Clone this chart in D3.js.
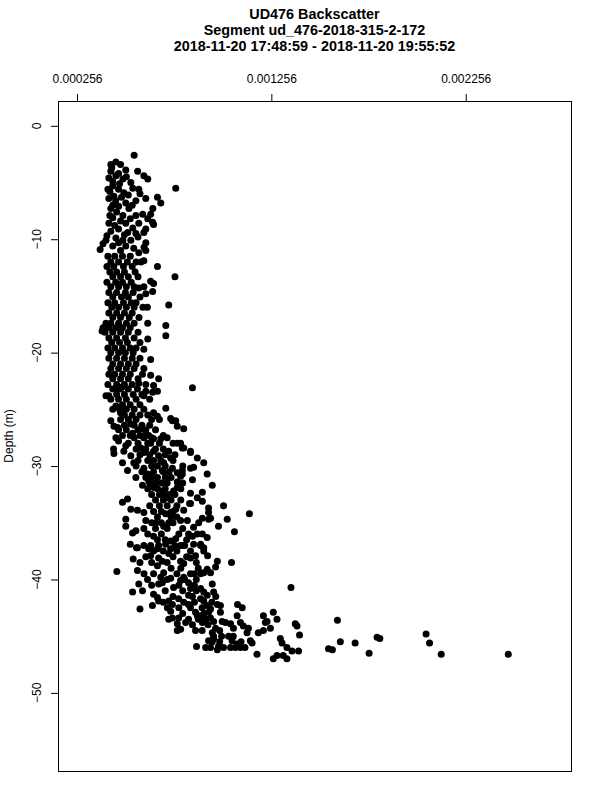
<!DOCTYPE html>
<html><head><meta charset="utf-8">
<script src="https://cdn.jsdelivr.net/npm/d3@7"></script>
<style>
body{margin:0;background:#fff}
svg{display:block}
text{font-family:"Liberation Sans",Arial,Helvetica,sans-serif;fill:#000}
</style>
</head><body>
<svg id="chart" width="600" height="800"></svg>
<script>
const titleLines = [
  "UD476 Backscatter",
  "Segment ud_476-2018-315-2-172",
  "2018-11-20 17:48:59 - 2018-11-20 19:55:52"
];
const yLabel = "Depth (m)";
const xTicks = [0.000256, 0.001256, 0.002256];
const xTickLabels = ["0.000256", "0.001256", "0.002256"];
const yTicks = [0, -10, -20, -30, -40, -50];
const yTickLabels = ["0", "\u221210", "\u221220", "\u221230", "\u221240", "\u221250"];
const xLimits = [0.000256, 0.0027];
const yLimits = [-54.7, 0];

// samples: [backscatter in units of 1e-5, depth in m]
const samples = [
  // 2.5 - 11 m
  [55,-2.6],[45.6,-3.2],[48,-3.4],[43.5,-3.7],[50.7,-3.9],[56.8,-4.0],[60,-4.4],[62,-4.7],[76.4,-5.5],[42,-4.6],
  [45.6,-4.4],[49.2,-4.7],[44,-5.3],[41.5,-5.6],[53.3,-5.0],[54.3,-5.5],[57.4,-5.6],[47,-5.6],[49.7,-5.9],[44.6,-6.2],
  [42,-6.4],[61,-6.4],[67,-6.3],[68.7,-6.8],[55.9,-6.6],[50.7,-6.8],[47,-7.1],[43,-7.3],[52.3,-7.3],[64.6,-7.3],
  [63.5,-7.8],[59.4,-7.8],[55.9,-7.9],[49.2,-7.9],[44,-8.1],[42,-8.6],[50.7,-8.6],[57.4,-8.6],[65,-8.7],[54.3,-9.0],
  [61,-9.1],[47,-9.1],[43,-9.3],[51.7,-9.4],[55.9,-9.5],[60,-9.4],[45.6,-9.9],[40.5,-10.1],[49.2,-10.1],[53.3,-10.1],
  [61,-10.3],[39,-10.4],[44,-10.6],[50.7,-10.6],[54.8,-10.8],[48,-11.0],[57.4,-11.2],[37.5,-10.9],
  [43,-4.0],[47,-4.2],[44,-4.9],[47.5,-5.1],[42.5,-5.8],[45.5,-6.6],[48.5,-6.3],[44,-7.0],[46,-7.6],[48,-8.4],
  [45,-8.8],[52,-6.1],[53,-8.2],[50,-9.6],[47,-10.3],[41,-9.7],[43,-3.4],[51,-4.5],[58,-6.0],[54,-7.0],
  [42.5,-7.9],[57,-9.8],[62,-8.2],[64.5,-8.5],[60.1,-10.7],[61,-11.0],[60,-11.9],
  // 11 - 20 m
  [41.5,-11.5],[45,-11.5],[49,-11.5],[53,-11.5],
  [43,-12.0],[47,-12.0],[51.5,-12.0],[56,-12.0],[58.5,-12.0],
  [41,-12.4],[44.5,-12.4],[49.5,-12.4],[54,-12.4],
  [42.5,-12.9],[46,-12.9],[50,-12.9],[55.5,-12.9],
  [44,-13.3],[48,-13.3],[52,-13.3],[57,-13.3],
  [41,-13.8],[45.5,-13.8],[49,-13.8],[53.5,-13.8],
  [43,-14.2],[47,-14.2],[51,-14.2],[55,-14.2],[60,-14.2],
  [42,-14.7],[46,-14.7],[50.5,-14.7],[54.5,-14.7],
  [44,-15.1],[48.5,-15.1],[52,-15.1],[58,-15.1],
  [41.5,-15.6],[45,-15.6],[49.5,-15.6],[53.5,-15.6],[56,-15.6],
  [43.5,-16.0],[47,-16.0],[51,-16.0],[55,-16.0],[59.5,-16.0],
  [42,-16.5],[46,-16.5],[50,-16.5],[54,-16.5],
  [44,-16.9],[48,-16.9],[52.5,-16.9],[57.5,-16.9],
  [40.5,-17.4],[43,-17.4],[47,-17.4],[51,-17.4],[55,-17.4],
  [39,-17.8],[42,-17.8],[45.5,-17.8],[49,-17.8],[53,-17.8],
  [40,-18.2],[44,-18.2],[48,-18.2],[52,-18.2],[57,-18.2],
  [42,-18.7],[46,-18.7],[50.5,-18.7],[55,-18.7],
  [43.5,-19.1],[47.5,-19.1],[51.5,-19.1],[58,-19.1],
  [41.5,-19.6],[45,-19.6],[49,-19.6],[53,-19.6],[56,-19.6],
  [43,-20.0],[47,-20.0],[50.5,-20.0],[54.5,-20.0],
  [67,-12.4],[76,-13.3],[63.5,-13.7],[65,-13.9],[64.5,-14.6],[57.4,-14.3],[72.8,-15.8],[61,-14.8],[71.3,-17.6],[71.3,-18.5],
  [62,-17.4],[62,-18.8],[60,-19.7],[61.8,-16.0],[39.4,-17.9],[38.5,-18.1],[63.5,-20.6],
  // 20 - 28 m
  [42,-20.5],[46,-20.5],[50,-20.5],[54,-20.5],[58,-20.5],
  [44,-21.0],[48,-21.0],[52,-21.0],[56,-21.0],
  [43,-21.4],[47,-21.4],[51,-21.4],[55,-21.4],[60,-21.4],
  [45,-21.9],[49,-21.9],[53,-21.9],
  [44,-22.3],[48,-22.3],[52,-22.3],[57,-22.3],
  [41.5,-22.8],[46,-22.8],[50,-22.8],[54,-22.8],[61,-22.8],
  [44,-23.2],[48,-23.2],[52,-23.2],
  [46,-23.7],[50,-23.7],[54.5,-23.7],[59,-23.7],
  [43,-24.1],[47,-24.1],[51,-24.1],[56,-24.1],[63,-24.1],
  [49,-24.6],[53,-24.6],[58,-24.6],
  [44,-25.0],[47.5,-25.0],[51,-25.0],[55,-25.0],[60,-25.0],
  [50,-25.5],[54,-25.5],[58,-25.5],[62,-25.5],
  [48,-25.9],[52,-25.9],[56,-25.9],[64,-25.9],[68,-25.9],
  [50,-26.4],[55,-26.4],[59,-26.4],[63,-26.4],
  [47,-26.8],[51,-26.8],[57,-26.8],[61,-26.8],[66,-26.8],
  [49,-27.3],[53,-27.3],[58,-27.3],[70,-27.3],
  [42,-21.9],[59.3,-21.9],[63.5,-22.0],[67.6,-22.3],[85,-23.1],[42,-23.8],[45.6,-23.2],[49,-23.0],[56.7,-23.2],[61,-23.4],
  [64.5,-23.5],[57.4,-22.7],[45.6,-24.7],[48,-25.3],[43,-26],[44.6,-26.5],[46.5,-26.6],[71.3,-24.9],[65,-25.3],[67,-25.6],
  [73.8,-25.8],[76.4,-26],[77.2,-26.5],[80.5,-26.7],[53.3,-26.3],[54.2,-27.1],[58.4,-26.7],[61,-27.1],[62.5,-27.3],[65,-27.6],
  [68.7,-27.6],[77.2,-28.0],[79.8,-28.4],[84,-28.7],[47,-27.8],[50.7,-28.2],[65,-22.9],[67,-23.4],[60,-23.8],[45.6,-27.5],
  [74.7,-26.0],[40.5,-23.8],
  // 28 - 37 m
  [44.6,-28.9],[49.7,-28.7],[53.3,-29.1],[54.8,-29.7],[49,-29.7],[51.6,-30.4],[58.4,-28.4],[60,-28.8],[63.5,-28.0],[65,-28.7],
  [67.6,-29.1],[68.7,-29.5],[72.8,-28.7],[73.8,-29.3],[78.9,-28.0],[80.5,-28.4],[84,-28.8],[87.5,-29.3],[90.8,-29.7],[74.7,-30.2],
  [77.2,-30.6],[78.9,-30.9],[79.8,-30.4],[84,-30.2],[85.6,-30.1],[92.6,-30.7],[95.2,-31.7],[85,-31.2],[70.2,-29.7],[69.5,-30.4],
  [67,-31.0],[60,-30.2],[61.9,-30.7],[62.5,-31.3],[55.9,-31.0],[59.3,-31.7],[65,-31.9],[68.7,-32.2],[70.2,-32.5],[72.1,-32.8],
  [75.3,-32.2],[77.2,-31.9],[84,-33.3],[90.1,-33.1],[93.3,-33.7],[93.3,-34.1],[101,-33.5],[114.3,-34.2],[51.6,-32.9],[53.3,-33.8],
  [56.7,-33.9],[60,-34.1],[61,-34.8],[66.1,-35.0],[71.2,-34.2],[73.8,-34.1],[76.4,-33.8],[80.5,-33.9],[50.7,-34.7],[50.7,-35.3],
  [70.2,-35.3],[72.8,-35.0],[78.9,-34.8],[82.4,-34.8],[85.6,-35.4],[88.2,-35.0],[90.1,-34.6],[93.3,-34.7],[98.4,-35.3],[102.9,-34.7],
  [106.6,-35.8],[55.9,-35.7],[60,-35.5],[65,-36.2],[56.7,-37.2],[62.5,-37.3],[67,-37.3],[73.8,-36.6],[76.4,-36.4],[79.8,-37.0],
  [85,-36.2],[87.5,-36.0],[90.1,-36.0],[92.6,-36.3],[89.2,-36.9],[90.8,-37.2],[54.2,-35.9],[94.3,-34.6],[87.5,-32.8],[84,-32.4],
  [90.1,-32.3],[83.5,-33.3],[79.8,-30.7],[77.2,-31.4],[44.4,-28.5],
  [55,-27.5],[60,-27.5],[64,-27.5],[72,-27.5],
  [52,-28.0],[57,-28.0],[62,-28.0],[68,-28.0],[75,-28.0],
  [56,-28.5],[61,-28.5],[66,-28.5],[70,-28.5],
  [58,-29.0],[63,-29.0],[71,-29.0],[76,-29.0],
  [57,-29.5],[62,-29.5],[65,-29.5],[75,-29.5],
  [56,-30.0],[64,-30.0],[67,-30.0],[71,-30.0],[80,-30.0],
  [59,-30.5],[65,-30.5],[70,-30.5],[73,-30.5],
  [61,-31.0],[64,-31.0],[71,-31.0],[74,-31.0],
  [63,-31.5],[66,-31.5],[69,-31.5],[72,-31.5],[80,-31.5],
  [62,-32.0],[67,-32.0],[71,-32.0],[79,-32.0],
  [64,-32.5],[68,-32.5],[73,-32.5],[76,-32.5],
  [66,-33.0],[70,-33.0],[74,-33.0],[79,-33.0],
  [63,-33.5],[68,-33.5],[72,-33.5],[77,-33.5],
  [65,-34.0],[69,-34.0],[75,-34.0],
  [67,-34.5],[74,-34.5],[77,-34.5],
  [64,-35.0],[69,-35.0],[75,-35.0],
  [49,-33.2],[53,-36.9],
  // 37 - 47.5 m
  [46.1,-39.3],[56.2,-37.2],[54.5,-38.2],[58,-38.5],[63.5,-37.0],[65,-37.5],[67.6,-37.0],[71.2,-36.9],[73.8,-37.3],[72.8,-37.7],
  [63.5,-37.9],[67.6,-38.1],[69.5,-38.4],[67,-38.8],[78.9,-37.0],[85.6,-36.9],[89.2,-37.0],[90.8,-37.5],[92.8,-37.9],[78.9,-38.4],
  [80.5,-38.6],[84,-38.1],[86.6,-37.9],[97.8,-38.4],[96.9,-38.9],[94.3,-39.4],[105.1,-38.5],[90.8,-39.4],[92.6,-39.1],[89.2,-39.5],
  [84,-39.5],[80.5,-39.8],[78.9,-40.1],[56.7,-39.2],[60.1,-39.5],[61.9,-40.0],[68.7,-39.8],[70.2,-39.4],[67.6,-40.4],[69.5,-40.3],
  [73.8,-39.9],[75.3,-40.7],[83,-40.3],[84,-40.8],[83,-41.4],[89.2,-40.8],[90.8,-41.1],[95.2,-40.4],[95.9,-41.1],[92.6,-41.4],
  [54.2,-41.1],[59.3,-41.0],[57.4,-40.4],[65,-41.3],[67,-41.6],[67.6,-41.9],[72.8,-41.9],[74.7,-42.2],[77.9,-41.7],[80.5,-42.0],
  [83,-42.2],[89.2,-41.7],[90.8,-41.9],[92.6,-42.3],[94.3,-42.6],[93.3,-42.9],[97.8,-42.2],[99.4,-42.3],[99.4,-42.9],[108.2,-42.2],
  [110.6,-42.5],[135.7,-40.7],[58,-42.6],[64.4,-42.3],[72.1,-42.5],[73.8,-42.8],[74.7,-43.4],[72.8,-43.5],[77.9,-43.4],[77.2,-43.9],
  [78.9,-44.4],[77.2,-44.5],[81.5,-43.8],[86.6,-42.9],[87.5,-43.2],[89.2,-43.2],[86.6,-44.5],[90.1,-43.8],
  [94.3,-43.4],[95.9,-43.7],[96.9,-44.3],[95.2,-44.7],[95.9,-45.2],[95.2,-45.5],[93.3,-45.4],[91.8,-46.0],[94.3,-46.0],[97.8,-46.2],
  [98.4,-45.9],[95.9,-45.0],[100.3,-43.7],[102,-43.8],[104.6,-43.9],[106.1,-44.3],[103.6,-45.0],[105.4,-45.4],[108,-45.7],[109.7,-46.0],
  [107.1,-46.0],[104.6,-46.0],[108,-43.2],[109.7,-43.8],[111.2,-44.1],[113.8,-44.3],[113.1,-44.7],[114.8,-45.4],[115.7,-45.6],[121.5,-43.2],
  [123.4,-43.7],[122.5,-43.8],[126.6,-42.9],[128.5,-43.5],[118.9,-44.7],[121.5,-44.5],[125.1,-44.3],[130.2,-45.2],[131.1,-45.6],[133.6,-46.0],
  [136.2,-46.3],[131.7,-46.7],[133.6,-47.0],[137.9,-43.9],[138.8,-44.1],[140.1,-44.9],[139.6,-46.3],[126.6,-47.0],[128.5,-46.7],[118.2,-46.6],
  [87.1,-45.9],[155,-46.1],[157,-46.2],[159.6,-43.6],[161.1,-45.5],[168.7,-45.6],[175.9,-46.5],[180,-45.1],[181.4,-45.2],[205.2,-44.8],
  [207,-45.6],[213,-46.6],[247.5,-46.6],
  [66,-35.5],[72,-35.5],[80,-35.5],
  [62,-36.0],[69,-36.0],[78,-36.0],[83,-36.0],
  [67,-36.5],[71,-36.5],[82,-36.5],
  [60,-37.0],[76,-37.0],[81,-37.0],
  [70,-37.5],[77,-37.5],[84,-37.5],
  [61,-38.0],[75,-38.0],[82,-38.0],
  [64,-38.5],[72,-38.5],[87,-38.5],
  [74,-39.0],[79,-39.0],[88,-39.0],
  [65,-39.5],[77,-39.5],[86,-39.5],
  [72,-40.0],[81,-40.0],[87,-40.0],
  [64,-40.5],[78,-40.5],[86,-40.5],
  [71,-41.0],[80,-41.0],[87,-41.0],
  [75,-41.5],[85,-41.5],[97,-41.5],
  [70,-42.0],[86,-42.0],[95,-42.0],
  [78,-42.5],[84,-42.5],[90,-42.5],
  [80,-43.0],[91,-43.0],
  [83,-43.5],[88,-43.5],[92,-43.5],
  [85,-44.0],[93,-44.0],
  [90,-44.5],[99,-44.5],
  [100,-45.0],[106,-45.0],
  [99,-45.5],[110,-45.5],
  [101,-46.0],[112,-46.0]
];
const backscatter = samples.map(s => s[0] * 1e-5);
const depth = samples.map(s => s[1]);

const box = {left: 58, right: 571, top: 101, bottom: 771};
function padRange(l) { const r = l[1] - l[0]; return [l[0] - 0.04 * r, l[1] + 0.04 * r]; }
const x = d3.scaleLinear().domain(padRange(xLimits)).range([box.left, box.right]);
const y = d3.scaleLinear().domain(padRange(yLimits)).range([box.bottom, box.top]);

const svg = d3.select("#chart");
svg.append("rect").attr("width", 600).attr("height", 800).attr("fill", "#fff");

// title
svg.append("g").selectAll("text").data(titleLines).join("text")
  .attr("x", (box.left + box.right) / 2)
  .attr("y", (d, i) => 18.5 + i * 16)
  .attr("text-anchor", "middle")
  .attr("font-size", "14.4px")
  .attr("font-weight", "bold")
  .text(d => d);

// top axis
const xAxis = d3.axisTop(x).tickValues(xTicks).tickFormat((d, i) => xTickLabels[i])
  .tickSize(7).tickPadding(11);
const gx = svg.append("g").attr("transform", `translate(0,${box.top})`).call(xAxis);
gx.select(".domain").remove();
gx.selectAll("text").attr("font-size", "12px").attr("font-family", '"Liberation Sans",Arial,sans-serif').attr("fill", "#000");
gx.selectAll("line").attr("stroke", "#000");

// left axis
const yAxis = d3.axisLeft(y).tickValues(yTicks).tickFormat("").tickSize(7);
const gy = svg.append("g").attr("transform", `translate(${box.left},0)`).call(yAxis);
gy.select(".domain").remove();
gy.selectAll("line").attr("stroke", "#000");
svg.append("g").selectAll("text").data(yTicks).join("text")
  .attr("transform", d => `translate(41,${y(d)}) rotate(-90)`)
  .attr("text-anchor", "middle")
  .attr("font-size", "12px")
  .text((d, i) => yTickLabels[i]);

// y label
svg.append("text")
  .attr("transform", `translate(13,${(box.top + box.bottom) / 2}) rotate(-90)`)
  .attr("text-anchor", "middle")
  .attr("font-size", "12px")
  .text(yLabel);

// points
svg.append("g").selectAll("circle").data(samples.map((s, i) => i)).join("circle")
  .attr("cx", i => x(backscatter[i]))
  .attr("cy", i => y(depth[i]))
  .attr("r", 3.5)
  .attr("fill", "#000");

// box
svg.append("rect")
  .attr("x", box.left).attr("y", box.top)
  .attr("width", box.right - box.left).attr("height", box.bottom - box.top)
  .attr("fill", "none").attr("stroke", "#000").attr("stroke-width", 1)
  .attr("shape-rendering", "crispEdges");
</script>
</body></html>
